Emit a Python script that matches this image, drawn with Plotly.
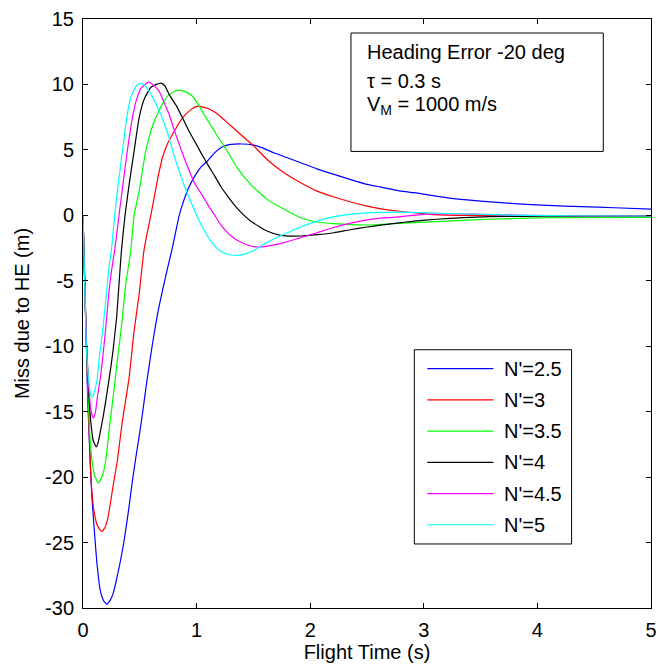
import plotly.graph_objects as go

# ---------------- data ----------------
series_names = ["N'=2.5", "N'=3", "N'=3.5", "N'=4", "N'=4.5", "N'=5"]
series_colors = ["#0000FF", "#FF0000", "#00FF00", "#000000", "#FF00FF", "#00FFFF"]

t_n25 = [0, 0.015, 0.03, 0.041, 0.064, 0.079, 0.1, 0.123, 0.153, 0.185, 0.212, 0.24, 0.265,
         0.288, 0.325, 0.361, 0.4, 0.435, 0.465, 0.494, 0.523, 0.56, 0.611, 0.655, 0.699,
         0.74, 0.787, 0.847, 0.876, 0.93, 0.993, 1.04, 1.096, 1.15, 1.213, 1.26, 1.3, 1.4,
         1.5, 1.58, 1.68, 1.8, 1.916, 2.06, 2.21, 2.35, 2.5, 2.62, 2.8, 2.915, 3.21, 3.5,
         3.8, 4.09, 4.385, 4.68, 5.0]
m_n25 = [0, -5.1, -10.2, -13.9, -19.0, -21.6, -24.1, -26.6, -28.7, -29.5, -29.7, -29.4, -28.9,
         -28.1, -26.6, -24.9, -22.6, -20.3, -18.5, -16.9, -15.2, -12.8, -9.85, -7.6, -5.78,
         -4.2, -2.47, 0.0, 0.84, 2.1, 3.13, 3.7, 4.15, 4.7, 5.16, 5.35, 5.42, 5.45,
         5.37, 5.15, 4.78, 4.4, 4.02, 3.55, 3.13, 2.75, 2.37, 2.16, 1.85, 1.73, 1.34, 1.09,
         0.89, 0.76, 0.66, 0.58, 0.48]

t_n3 = [0, 0.015, 0.03, 0.05, 0.067, 0.08, 0.097, 0.126, 0.164, 0.19, 0.214, 0.236, 0.258,
        0.28, 0.302, 0.325, 0.347, 0.376, 0.406, 0.45, 0.494, 0.538, 0.597, 0.626, 0.66,
        0.699, 0.74, 0.787, 0.876, 0.94, 1.008, 1.09, 1.17, 1.255, 1.387, 1.505, 1.62,
        1.77, 1.916, 2.06, 2.21, 2.357, 2.5, 2.65, 2.77, 3.06, 3.36, 3.8, 4.4, 5.0]
m_n3 = [0, -5.0, -9.9, -15.5, -19.5, -21.3, -22.6, -23.7, -24.15, -23.9, -23.3, -22.3, -21.05,
        -19.9, -18.75, -17.2, -15.7, -14.1, -12.4, -8.83, -6.03, -2.6, 0.0, 1.34, 2.9,
        4.4, 5.4, 6.18, 7.45, 8.0, 8.34, 8.2, 7.83, 7.2, 6.18, 5.29, 4.27,
        3.25, 2.49, 1.85, 1.4, 1.02, 0.71, 0.46, 0.33, 0.08, 0.0, -0.03, -0.04, -0.05]

t_n35 = [0, 0.015, 0.03, 0.058, 0.08, 0.1, 0.135, 0.17, 0.2, 0.229, 0.258, 0.28, 0.302, 0.325,
         0.347, 0.376, 0.42, 0.45, 0.494, 0.552, 0.6, 0.64, 0.714, 0.77, 0.83, 0.9, 0.964,
         1.02, 1.08, 1.18, 1.27, 1.358, 1.475, 1.62, 1.77, 1.916, 2.06, 2.21, 2.5, 2.62,
         2.915, 3.21, 3.56, 4.12, 5.0]
m_n35 = [0, -5.0, -9.8, -16.5, -18.8, -19.8, -20.46, -19.9, -18.75, -16.5, -14.4, -12.8, -11.1, -9.5,
         -7.8, -5.27, -2.73, 0.0, 1.85, 4.91, 6.5, 7.45, 8.73, 9.3, 9.56, 9.45, 9.1,
         8.4, 7.5, 6.1, 4.9, 3.63, 2.37, 1.22, 0.46, -0.18, -0.51, -0.64, -0.74, -0.69,
         -0.56, -0.44, -0.3, -0.18, -0.15]

t_n4 = [0, 0.015, 0.03, 0.05, 0.07, 0.09, 0.117, 0.135, 0.153, 0.176, 0.2, 0.223, 0.245, 0.264,
        0.28, 0.296, 0.317, 0.338, 0.37, 0.41, 0.45, 0.494, 0.54, 0.6, 0.684, 0.72, 0.758,
        0.82, 0.876, 0.935, 0.993, 1.034, 1.07, 1.11, 1.16, 1.213, 1.27, 1.328, 1.4, 1.475,
        1.55, 1.62, 1.74, 1.916, 2.06, 2.21, 2.35, 2.5, 2.62, 2.8, 2.915, 3.11, 3.35, 3.58,
        3.87, 4.3, 5.0]
m_n4 = [0, -5.0, -9.7, -13.5, -15.9, -17.2, -17.7, -17.3, -16.5, -15.45, -14.2, -12.9, -11.6, -10.36,
        -9.1, -7.8, -5.27, -2.73, 0.0, 2.6, 4.91, 7.45, 8.9, 9.8, 10.1, 9.9, 9.24,
        8.4, 7.45, 6.4, 5.5, 4.85, 4.3, 3.7, 3.0, 2.2, 1.5, 0.84, 0.15, -0.44,
        -0.85, -1.2, -1.53, -1.58, -1.48, -1.33, -1.1, -0.89, -0.75, -0.56, -0.44, -0.3, -0.18, -0.1,
        -0.08, -0.06, -0.05]

t_n45 = [0, 0.015, 0.03, 0.05, 0.07, 0.091, 0.11, 0.126, 0.15, 0.17, 0.2, 0.229, 0.255, 0.28,
         0.317, 0.355, 0.39, 0.435, 0.47, 0.51, 0.576, 0.62, 0.67, 0.71, 0.758, 0.8, 0.847,
         0.89, 0.935, 0.98, 1.03, 1.08, 1.12, 1.16, 1.21, 1.27, 1.33, 1.4, 1.475, 1.564,
         1.66, 1.77, 1.9, 2.06, 2.2, 2.357, 2.5, 2.65, 2.8, 2.97, 3.23, 3.5, 3.9, 4.4, 5.0]
m_n45 = [0, -5.0, -9.6, -13.0, -14.9, -15.5, -15.0, -13.9, -12.6, -11.2, -8.6, -5.8, -4.0, -2.6,
         0.0, 2.6, 4.91, 7.45, 8.8, 9.7, 10.18, 9.95, 9.49, 8.7, 7.71, 6.6, 5.42,
         4.4, 3.4, 2.5, 1.8, 1.1, 0.5, 0.0, -0.69, -1.3, -1.75, -2.1, -2.34, -2.42,
         -2.3, -2.09, -1.75, -1.33, -0.95, -0.6, -0.35, -0.2, -0.1, 0.05, 0.12, 0.08, 0.0, -0.04, -0.05]

t_n5 = [0, 0.015, 0.029, 0.05, 0.065, 0.08, 0.1, 0.123, 0.147, 0.17, 0.2, 0.229, 0.252, 0.279,
        0.31, 0.347, 0.385, 0.42, 0.47, 0.508, 0.545, 0.582, 0.62, 0.67, 0.72, 0.758, 0.8,
        0.847, 0.89, 0.935, 0.98, 1.023, 1.07, 1.12, 1.17, 1.21, 1.27, 1.33, 1.416, 1.49,
        1.564, 1.67, 1.77, 1.9, 2.06, 2.2, 2.357, 2.55, 2.8, 3.0, 3.3, 3.6, 3.9, 4.3, 5.0]
m_n5 = [0, -5.0, -9.9, -12.6, -13.6, -13.9, -13.5, -12.6, -10.6, -9.1, -6.5, -4.0, -2.5, 0.0,
        2.4, 4.91, 7.45, 9.0, 9.9, 10.08, 9.9, 9.5, 8.9, 8.0, 6.9, 5.92, 4.6,
        3.38, 2.3, 1.34, 0.4, -0.44, -1.2, -1.9, -2.45, -2.73, -2.97, -3.05, -2.98, -2.75,
        -2.34, -1.85, -1.45, -0.95, -0.44, -0.12, 0.08, 0.2, 0.25, 0.2, 0.12, 0.05, 0.0, -0.03, -0.05]

t_series = [t_n25, t_n3, t_n35, t_n4, t_n45, t_n5]
m_series = [m_n25, m_n3, m_n35, m_n4, m_n45, m_n5]

x_ticks = [0, 1, 2, 3, 4, 5]
y_ticks = [-30, -25, -20, -15, -10, -5, 0, 5, 10, 15]
info_lines = ["Heading Error -20 deg", "\u03c4 = 0.3 s", "V<sub>M</sub> = 1000 m/s"]

# ---------------- figure ----------------
FONT = "Liberation Sans, Arial, Helvetica, sans-serif"
FS = 20

fig = go.Figure()
for name, col, tt, mm in zip(series_names, series_colors, t_series, m_series):
    fig.add_trace(go.Scatter(x=tt, y=mm, mode="lines", name=name,
                             line=dict(color=col, width=1.2, shape="spline", smoothing=0.5),
                             showlegend=False))

axis_common = dict(showline=True, linecolor="black", linewidth=1, mirror="ticks",
                   ticks="inside", ticklen=5, tickcolor="black", showgrid=False,
                   zeroline=False, automargin=False, ticklabeloverflow="allow",
                   tickfont=dict(family=FONT, size=FS, color="black"))

fig.update_xaxes(range=[0, 5], tickvals=x_ticks, ticktext=[str(v) for v in x_ticks],
                 ticklabelstandoff=4,
                 title=dict(text="Flight Time (s)", font=dict(family=FONT, size=FS, color="black"),
                            standoff=4),
                 **axis_common)
fig.update_yaxes(range=[-30, 15], tickvals=y_ticks, ticktext=[str(v) for v in y_ticks],
                 ticklabelstandoff=4,
                 title=dict(text="Miss due to HE (m)", font=dict(family=FONT, size=FS, color="black"),
                            standoff=10),
                 **axis_common)

# info box (top)
fig.add_shape(type="rect", xref="paper", yref="paper", x0=0.4718, x1=0.916, y0=0.7752, y1=0.9762,
              line=dict(color="black", width=1), fillcolor="white", layer="above")
info_y = [0.9433, 0.894, 0.853]
for txt, yy in zip(info_lines, info_y):
    fig.add_annotation(xref="paper", yref="paper", x=0.4965, y=yy, text=txt, showarrow=False,
                       xanchor="left", yanchor="middle",
                       font=dict(family=FONT, size=FS, color="black"))

# legend box (custom, to reproduce the long line samples)
fig.add_shape(type="rect", xref="paper", yref="paper", x0=0.5833, x1=0.8602, y0=0.1087, y1=0.4385,
              line=dict(color="black", width=1), fillcolor="white", layer="above")
leg_y0, leg_step = 0.4063, 0.053
for i, (name, col) in enumerate(zip(series_names, series_colors)):
    yy = leg_y0 - i * leg_step
    fig.add_shape(type="line", xref="paper", yref="paper", x0=0.6062, x1=0.7224, y0=yy, y1=yy,
                  line=dict(color=col, width=1.2), layer="above")
    fig.add_annotation(xref="paper", yref="paper", x=0.7382, y=yy, text=name, showarrow=False,
                       xanchor="left", yanchor="middle",
                       font=dict(family=FONT, size=FS, color="black"))

fig.update_layout(width=658, height=669, margin=dict(l=83, r=7, t=19, b=61),
                  plot_bgcolor="white", paper_bgcolor="white",
                  font=dict(family=FONT, size=FS, color="black"))

# remove the browser's default 8px body margin so the figure fills the window exactly
fig.write_html("out.html", config={"displayModeBar": False},
               post_script="document.body.style.margin='0';document.body.style.overflow='hidden';")
